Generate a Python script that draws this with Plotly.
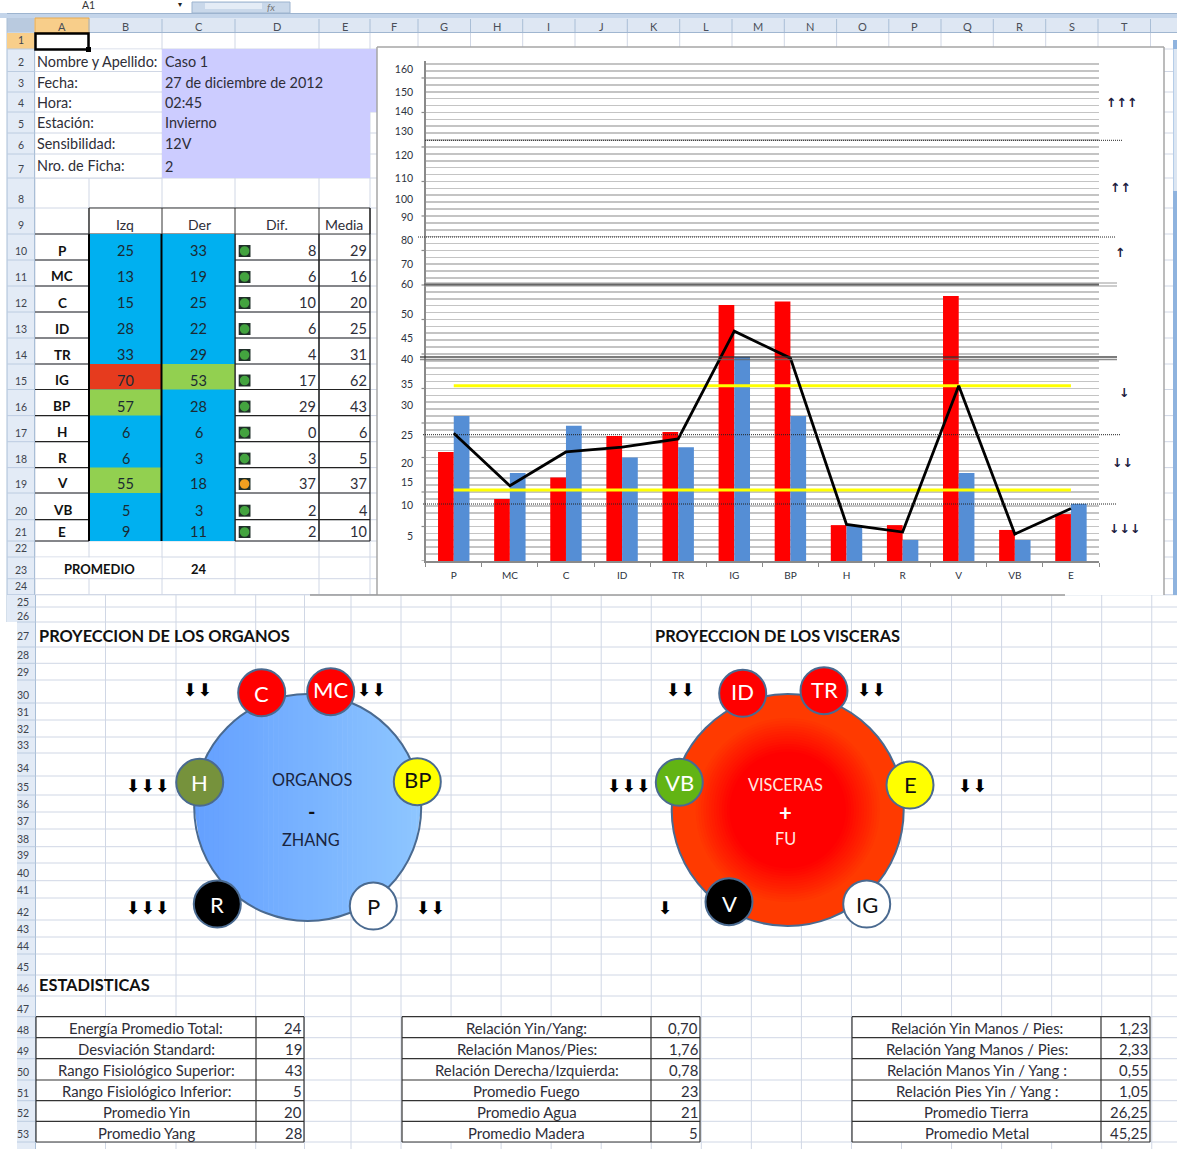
import plotly.graph_objects as go

W, H = 1177, 1149

# ---------- data ----------
categories = ["P", "MC", "C", "ID", "TR", "IG", "BP", "H", "R", "V", "VB", "E"]
izq = [25, 13, 15, 28, 33, 70, 57, 6, 6, 55, 5, 9]
der = [33, 19, 25, 22, 29, 53, 28, 6, 3, 18, 3, 11]
dif = [8, 6, 10, 6, 4, 17, 29, 0, 3, 37, 2, 2]
media = [29, 16, 20, 25, 31, 62, 43, 6, 5, 37, 4, 10]
dif_status = ["g", "g", "g", "g", "g", "g", "g", "g", "g", "o", "g", "g"]

# bar and line heights as drawn, read against the chart's gridlines
bar_izq = [15.8, 9.0, 12.1, 18.1, 18.7, 37.1, 37.6, 5.2, 5.2, 38.4, 4.5, 6.8]
bar_der = [21.0, 12.75, 19.6, 15.0, 16.5, 29.6, 21.0, 5.2, 3.05, 12.75, 3.05, 8.3]
line_media = [18.5, 10.9, 15.8, 16.5, 17.7, 33.3, 29.4, 5.3, 4.2, 25.4, 3.9, 7.6]
upper_range = [25.4] * 12
lower_range = [10.3] * 12

axis_labels = ["160", "150", "140", "130", "120", "110", "100", "90", "80", "70", "60",
               "50", "45", "40", "35", "30", "25", "20", "15", "10", "5"]
axis_label_pos = [71.2, 67.9, 65.1, 62.2, 58.8, 55.4, 52.4, 49.8, 46.5, 43.0, 40.1,
                  35.8, 32.2, 29.3, 25.6, 22.5, 18.2, 14.2, 11.4, 8.0, 3.6]

info_labels = ["Nombre y Apellido:", "Fecha:", "Hora:", "Estación:", "Sensibilidad:", "Nro. de Ficha:"]
info_values = ["Caso 1", "27 de diciembre de 2012", "02:45", "Invierno", "12V", "2"]

stats_1 = ["Energía Promedio Total:", "Desviación Standard:", "Rango Fisiológico Superior:",
           "Rango Fisiológico Inferior:", "Promedio Yin", "Promedio Yang"]
stats_1_v = ["24", "19", "43", "5", "20", "28"]
stats_2 = ["Relación Yin/Yang:", "Relación Manos/Pies:", "Relación Derecha/Izquierda:",
           "Promedio Fuego", "Promedio Agua", "Promedio Madera"]
stats_2_v = ["0,70", "1,76", "0,78", "23", "21", "5"]
stats_3 = ["Relación Yin Manos / Pies:", "Relación Yang Manos / Pies:", "Relación Manos Yin / Yang :",
           "Relación Pies Yin / Yang :", "Promedio Tierra", "Promedio Metal"]
stats_3_v = ["1,23", "2,33", "0,55", "1,05", "26,25", "45,25"]

# ---------- layout geometry (pixels) ----------
FONT = "Lato"
GRID = "#D0D7E5"
TXT = "#2E2E38"
up_cols = [35, 89, 162, 235, 319, 370, 418, 470.5, 522.7, 575, 627.3, 679.7, 732, 784.3,
           836.6, 888.8, 941, 993.3, 1045.7, 1098, 1150.5]
col_names = list("ABCDEFGHIJKLMNOPQRST")
up_rows = [32.5, 49, 71.5, 92, 112, 133, 154, 178, 208, 234, 260, 286, 312, 338, 364, 389.5,
           415.6, 441.7, 467.6, 493, 519.7, 541, 557, 578.7, 594.7]
lo_cols = [35.5, 105.5, 176, 255.7, 304.5, 351] + [401 + 50.05 * i for i in range(17)]
lo_rows = [594.7, 607, 622, 647, 663.3, 680, 703, 720, 737, 753, 776, 795, 812, 829, 846.7, 863,
           880.7, 898, 920, 937, 954, 975, 996, 1016.7, 1037.7, 1058.7, 1080, 1100.7, 1121.3, 1142]
lo_numbers = list(range(25, 54))

shapes, notes = [], []
def px(x): return x / W
def py(y): return 1 - y / H
def rect(x0, y0, x1, y1, fill=None, line=None, lw=1, layer="below", op=1):
    shapes.append(dict(type="rect", xref="paper", yref="paper", x0=px(x0), x1=px(x1), y0=py(y0), y1=py(y1),
                       fillcolor=fill or "rgba(0,0,0,0)", line=dict(color=line or "rgba(0,0,0,0)", width=lw if line else 0),
                       layer=layer, opacity=op))
def seg(x0, y0, x1, y1, color, lw=1, dash="solid", layer="below", op=1):
    shapes.append(dict(type="line", xref="paper", yref="paper", x0=px(x0), x1=px(x1), y0=py(y0), y1=py(y1),
                       line=dict(color=color, width=lw, dash=dash), layer=layer, opacity=op))
def circ(cx, cy, r, fill=None, line=None, lw=1, layer="below"):
    shapes.append(dict(type="circle", xref="paper", yref="paper", x0=px(cx - r), x1=px(cx + r), y0=py(cy + r), y1=py(cy - r),
                       fillcolor=fill or "rgba(0,0,0,0)", line=dict(color=line or "rgba(0,0,0,0)", width=lw if line else 0),
                       layer=layer))
def text(x, y, s, size=14, color=TXT, bold=False, anchor="center", font=FONT):
    notes.append(dict(xref="paper", yref="paper", x=px(x), y=py(y), text=f"<b>{s}</b>" if bold else s,
                      showarrow=False, xanchor=anchor, yanchor="middle", borderpad=0, borderwidth=0,
                      font=dict(family=font, size=size, color=color)))
def mix(a, b, t):
    return "rgb(%d,%d,%d)" % tuple(round(a[i] + (b[i] - a[i]) * t) for i in range(3))

# ---------- sheet background ----------
for x in up_cols:
    seg(x, 32, x, 595, GRID)
for y in up_rows:
    seg(35, y, W, y, GRID)
for x in lo_cols:
    seg(x, 595, x, H, GRID)
for y in lo_rows:
    seg(35.5, y, W, y, GRID)

# top chrome
rect(0, 13, W, 18, "#C4D5EA")
seg(7, 13.5, W, 13.5, "#9DB4CF")
rect(192, 2, 290, 13, "#C9D8EA", "#9DB4CF")
rect(205, 3, 262, 9, "#E4ECF6")
text(88, 5, "A1", 10.5, "#333")
text(180, 4.5, "▾", 8, "#222", font="DejaVu Sans")
text(271, 6.5, "<i>fx</i>", 10, "#777")
rect(7, 18, W, 32.5, "#DEE7F3")
seg(7, 32.5, W, 32.5, "#A0B6D0")
rect(7, 18, 34.5, 32.5, "#B9CADF")
rect(35, 18, 89, 32.5, "#F8CE8A", "#E8A94E")
for i, n in enumerate(col_names):
    seg(up_cols[i + 1], 19, up_cols[i + 1], 32, "#A9BED6")
    text((up_cols[i] + up_cols[i + 1]) / 2, 26, n, 11, "#4A4F58")
rect(7, 32.5, 34.5, 595, "#E3EBF6")
seg(34.5, 32.5, 34.5, 595, "#A9BED6")
seg(7, 18, 7, 622, "#A9BED6")
rect(7, 33, 34.5, 49, "#F8CE8A")
for i in range(24):
    seg(7, up_rows[i + 1], 34.5, up_rows[i + 1], "#BCCCE0")
    text(20.5, up_rows[i + 1] - 9, str(i + 1), 10.5, "#3E444E")
rect(7, 595, 35.5, 622, "#E3EBF6")
rect(17, 622, 35.5, H, "#E3EBF6")
seg(35.5, 595, 35.5, H, "#A9BED6")
for i, n in enumerate(lo_numbers):
    seg(17, lo_rows[i + 1], 35.5, lo_rows[i + 1], "#BCCCE0")
    ty = lo_rows[i + 1] - 8 if n not in (25, 26, 27) else (lo_rows[i] + lo_rows[i + 1]) / 2 + 1
    text(23, ty, str(n), 10.5, "#3E444E")
rect(1173, 40, W, 595, "#8FB3DE")
rect(1173.5, 49, W, 191, "#DCE6F2")

# info block
rect(35.5, 49.5, 161.5, 178, "#FFFFFF")
for y in up_rows[2:8]:
    seg(35, y, 162, y, GRID)
rect(162, 49, 377, 112, "#CCCCFF")
rect(162, 112, 370, 178, "#CCCCFF")
info_y = [61.5, 82.5, 102, 122, 143.5, 165.5]
for lab, val, y in zip(info_labels, info_values, info_y):
    text(37, y, lab, 14.4, anchor="left")
    text(165, y + 0.5, val, 14.4, anchor="left")
rect(35.5, 33.5, 88.5, 49.5, None, "#000000", 2.5)
rect(86, 47, 91, 52, "#000000")

# measurement table
tbl_x = up_cols[:6]
rows_start = 9
rect(89, 208, 370, 234, "#FFFFFF", "#333333", 1)
for x in tbl_x[1:5]:
    seg(x, 208, x, 541, "#333333")
for x, name in zip([125, 199, 277, 344], ["Izq", "Der", "Dif.", "Media"]):
    text(x, 225, name, 14)
rect(89, 234, 235, 541, "#00B0F0")
def cell_color(v):
    return "#E63B1E" if v >= 70 else ("#92D050" if v >= 50 else None)
for i, cat in enumerate(categories):
    y0, y1 = up_rows[rows_start + i], up_rows[rows_start + i + 1]
    yt = y1 - 9.5
    for val, x0, x1 in ((izq[i], 89, 162), (der[i], 162, 235)):
        c = cell_color(val)
        if c:
            rect(x0, y0, x1, y1, c)
        text((x0 + x1) / 2, yt, str(val), 14.5, "#1B2A33")
    seg(35, y1, 89, y1, "#222222", 1.2)
    seg(235, y1, 370, y1, "#222222", 1.2)
    text(62, yt, cat, 13.5, "#111", bold=True)
    text(316, yt, str(dif[i]), 14.5, anchor="right")
    text(367, yt, str(media[i]), 14.5, anchor="right")
    rect(238.7, yt - 5.5, 250.5, yt + 6.5, "#20302A")
    circ(244.6, yt + 0.5, 4.8, "#43A33F" if dif_status[i] == "g" else "#F0A020")
seg(89, 234, 89, 541, "#000000", 2)
seg(161.5, 234, 161.5, 541, "#000000", 2)
seg(235, 234, 235, 541, "#222222", 1.2)
seg(319, 234, 319, 541, "#222222", 1.2)
seg(370, 208, 370, 541, "#222222", 1.2)
seg(35, 234, 89, 234, "#222222", 1.2)
rect(35.5, 557.5, 161.5, 578, "#FFFFFF")
text(99, 569.5, "PROMEDIO", 13, "#111", bold=True)
text(199, 569.5, "24", 13, "#111", bold=True)

# chart panel
rect(377, 47, 1164, 595, "#FFFFFF", None)
seg(377, 47, 1164, 47, "#A6A6A6", 1.5)
seg(377, 47, 377, 595, "#A6A6A6", 1.5)
seg(1164, 47, 1164, 595, "#A6A6A6", 1.5)
seg(310, 595, 1065, 595, "#9A9A9A", 1.5)

# chart-level reference lines, drawn over the bars
for y, x0, x1 in [(140.3, 425, 1122), (237, 418, 1115), (434.7, 423, 1120), (504, 423, 1117)]:
    seg(x0, y, x1, y, "#222222", 1, "1px,1px", "above")
for y in (283, 286):
    seg(424, y, 1117, y, "#9A9A9A", 1, layer="above")
seg(424, 284.5, 1099, 284.5, "#666666", 2, layer="above")
seg(420, 357, 1117, 357, "#333333", 1.5, layer="above", op=0.85)
seg(420, 359.5, 1117, 359.5, "#666666", 1.5, layer="above", op=0.75)
for s, x, y in [("↑↑↑", 1121, 102), ("↑↑", 1120, 187), ("↑", 1120, 253),
                ("↓", 1124, 392), ("↓↓", 1122, 462), ("↓↓↓", 1124, 528)]:
    text(x, y, s, 12.5, "#1D2040", True, font="DejaVu Sans")

# tick marks every five units, placed by the value axis
for v in range(0, 75, 5):
    shapes.append(dict(type="line", xref="paper", yref="y", x0=px(421.5), x1=px(425.7), y0=v, y1=v,
                       line=dict(color="#8A8A8A", width=1.2), layer="below"))

# ---------- section titles ----------
text(39, 635, "PROYECCION DE LOS ORGANOS", 16.4, "#111", True, "left")
text(655, 635, "PROYECCION DE LOS VISCERAS", 16.4, "#111", True, "left")
text(39, 984.5, "ESTADISTICAS", 16.4, "#111", True, "left")

# ---------- organ diagrams ----------
def disc_linear(cx, cy, r, c0, c1, n=46):
    for i in range(n):
        xa = -r + 2 * r * i / n
        xb = min(r, -r + 2 * r * (i + 1) / n + 0.6)
        ha = max(r * r - xa * xa, 0) ** 0.5
        hb = max(r * r - xb * xb, 0) ** 0.5
        p = (f"M{px(cx + xa)},{py(cy - ha)} L{px(cx + xb)},{py(cy - hb)} "
             f"L{px(cx + xb)},{py(cy + hb)} L{px(cx + xa)},{py(cy + ha)} Z")
        shapes.append(dict(type="path", xref="paper", yref="paper", path=p,
                           fillcolor=mix(c0, c1, i / (n - 1)), line=dict(width=0), layer="below"))

EDGE = "#4A6A90"
disc_linear(307.7, 807.5, 113.5, (100, 160, 255), (142, 198, 255))
circ(307.7, 807.5, 113.5, None, EDGE, 2)
text(312, 780, "ORGANOS", 16.3, "#1A2540")
text(311, 811, "-", 20, "#111", True)
text(311, 839, "ZHANG", 16.3, "#1A2540")

circ(787.7, 810, 116, "#FF3A00", EDGE, 2)
for k in range(14):
    r = 92 - k * 2.6
    circ(787.7, 810, r, mix((255, 58, 0), (255, 0, 0), (k + 1) / 14))
text(785, 784, "VISCERAS", 16.3, "#FFE9E0")
text(785, 812, "+", 22, "#FFFFFF", True)
text(785, 838, "FU", 16.3, "#FFE9E0")

badges = [("C", 261.7, 692.7, "#FF0000", "#FFFFFF", 1.3), ("MC", 330.7, 691.7, "#FF0000", "#FFFFFF", -1.7),
          ("H", 199.7, 782.3, "#76923C", "#FFFFFF", 0.7), ("BP", 417.3, 781.7, "#FFFF00", "#111111", -1.7),
          ("R", 217.3, 904, "#000000", "#FFFFFF", 1), ("P", 373.3, 906, "#FFFFFF", "#111111", 1),
          ("ID", 742.7, 693.3, "#FF0000", "#FFFFFF", -1.3), ("TR", 824, 690.7, "#FF0000", "#FFFFFF", -0.7),
          ("VB", 679.3, 782.3, "#62B414", "#FFFFFF", 0.7), ("E", 910, 785, "#FFFF00", "#111111", 0),
          ("V", 729, 901.7, "#000000", "#FFFFFF", 3), ("IG", 866.7, 904, "#FFFFFF", "#111111", 1)]
for name, x, y, fill, col, dy in badges:
    circ(x, y, 23.5, fill, EDGE, 2)
    text(x, y - 1 + dy, name, 22, col)
for s, x, y in [("⬇⬇", 197, 690), ("⬇⬇", 372, 690), ("⬇⬇⬇", 148, 786), ("⬇⬇⬇", 148, 908), ("⬇⬇", 430, 908),
                ("⬇⬇", 680, 690), ("⬇⬇", 872, 690), ("⬇⬇⬇", 629, 786), ("⬇⬇", 972, 786), ("⬇", 665, 908)]:
    text(x, y, s, 17.5, "#000000", font="DejaVu Sans")

# ---------- statistics tables ----------
st_rows = [1016.7, 1037.7, 1058.7, 1080, 1100.7, 1121.3, 1142]
for x0, xm, x1, labs, vals in [(36, 256, 304, stats_1, stats_1_v), (402, 651, 700, stats_2, stats_2_v),
                               (852, 1101, 1150, stats_3, stats_3_v)]:
    rect(x0, st_rows[0], x1, st_rows[-1], "#FFFFFF")
    for y in st_rows:
        seg(x0, y, x1, y, "#333333", 1.2)
    for x in (x0, xm, x1):
        seg(x, st_rows[0], x, st_rows[-1], "#333333", 1.2)
    for i, (l, v) in enumerate(zip(labs, vals)):
        y = (st_rows[i] + st_rows[i + 1]) / 2 + 1
        text((x0 + xm) / 2, y, l, 14.9)
        text(x1 - 2, y, v, 14.9, anchor="right")

# ---------- figure ----------
fig = go.Figure()
fig.add_bar(x=categories, y=bar_izq, marker=dict(color="#FF0000", line=dict(width=0)), name="Izq")
fig.add_bar(x=categories, y=bar_der, marker=dict(color="#558ED5", line=dict(width=0)), name="Der")
fig.add_scatter(x=categories, y=upper_range, mode="lines", line=dict(color="#FFFF00", width=3), name="Superior")
fig.add_scatter(x=categories, y=lower_range, mode="lines", line=dict(color="#FFFF00", width=3), name="Inferior")
fig.add_scatter(x=categories, y=line_media, mode="lines", line=dict(color="#000000", width=2.8), name="Media")

fig.update_layout(
    width=W, height=H, margin=dict(l=0, r=0, t=0, b=0), autosize=False,
    paper_bgcolor="#FFFFFF", plot_bgcolor="rgba(0,0,0,0)", showlegend=False, hovermode=False,
    barmode="group", bargap=0.44, bargroupgap=0,
    font=dict(family=FONT, color=TXT),
    shapes=shapes, annotations=notes,
    xaxis=dict(domain=[px(425.7), px(1099)], type="category", categoryorder="array", categoryarray=categories,
               range=[-0.5, 11.5], tickson="boundaries", ticks="outside", ticklen=4, tickcolor="#8A8A8A",
               showline=True, linecolor="#8A8A8A", linewidth=1.5, showgrid=False, zeroline=False,
               tickfont=dict(size=10, color="#2E3340", family=FONT), ticklabelstandoff=4),
    yaxis=dict(domain=[py(561), py(61)], range=[0, 72.46], tickmode="array", tickvals=axis_label_pos,
               ticktext=axis_labels, ticks="", showgrid=False, zeroline=False, showline=True,
               linecolor="#8A8A8A", linewidth=1.5, ticklabelstandoff=9,
               tickfont=dict(size=10.5, color="#2E3340", family=FONT),
               minor=dict(dtick=1, tick0=0, showgrid=True, gridcolor="#C4C4C4", gridwidth=1.6, ticks="")),
)
fig.write_html("out.html", config=dict(displayModeBar=False, staticPlot=True),
               post_script="document.body.style.margin='0';document.documentElement.style.overflow='hidden';")
